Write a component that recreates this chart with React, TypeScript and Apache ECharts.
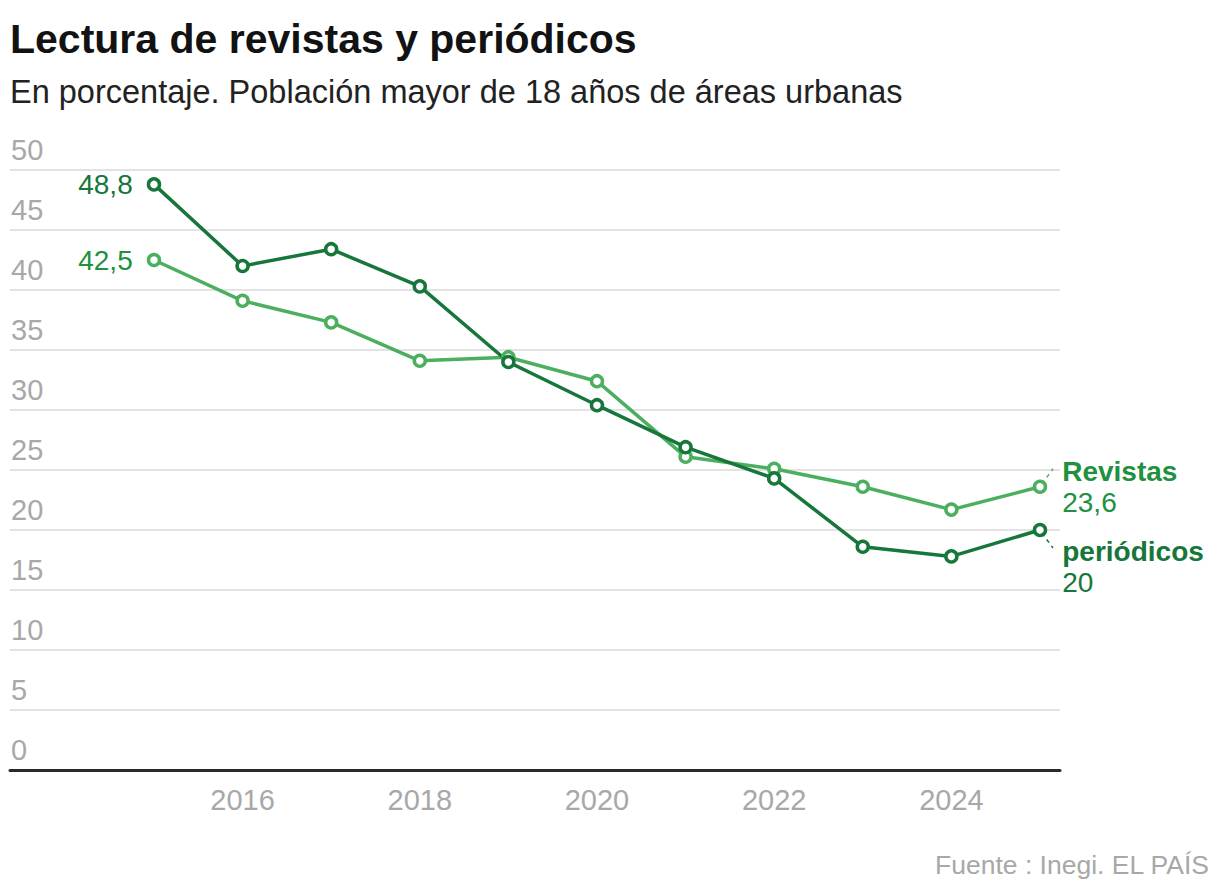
import React, { useEffect, useRef } from "react";
import * as echarts from "echarts";

const years = [2015, 2016, 2017, 2018, 2019, 2020, 2021, 2022, 2023, 2024, 2025];
const revistas = [42.5, 39.1, 37.3, 34.1, 34.4, 32.4, 26.1, 25.1, 23.6, 21.7, 23.6];
const periodicos = [48.8, 42.0, 43.4, 40.3, 34.0, 30.4, 26.9, 24.3, 18.6, 17.8, 20];
const xTickLabels = [2016, 2018, 2020, 2022, 2024];
const yTicks = { min: 0, max: 50, interval: 5 };

const TITLE = "Lectura de revistas y periódicos";
const SUBTITLE = "En porcentaje. Población mayor de 18 años de áreas urbanas";
const SOURCE = "Fuente : Inegi. EL PAÍS";

const DARK = "#17763a";
const LIGHT = "#4caf5f";
const LIGHT_TEXT = "#21903f";
const FONT = "'Liberation Sans', Arial, sans-serif";

const fmt = (v: number) => String(v).replace(".", ",");

function buildData(vals: number[], name: string, textColor: string, endOffset: number[]) {
  const last = vals.length - 1;
  return vals.map((v, i) => {
    const item: any = { value: [years[i], v] };
    if (i === 0) {
      item.label = {
        show: true,
        position: "left",
        distance: 14,
        formatter: fmt(v),
        color: textColor,
        fontSize: 28,
        fontFamily: FONT,
      };
    } else if (i === last) {
      item.label = {
        show: true,
        position: "right",
        distance: 15,
        offset: endOffset,
        align: "left",
        formatter: `{n|${name}}\n{v|${fmt(v)}}`,
        rich: {
          n: { fontWeight: "bold", fontSize: 28, lineHeight: 31, color: textColor, fontFamily: FONT },
          v: { fontSize: 28, lineHeight: 31, color: textColor, fontFamily: FONT },
        },
      };
    }
    return item;
  });
}

export default function App() {
  const ref = useRef<HTMLDivElement>(null);
  useEffect(() => {
    if (!ref.current) return;
    const chart = echarts.init(ref.current, undefined, { renderer: "svg" });
    const lineSeries = (name: string, label: string, vals: number[], color: string, textColor: string, off: number[]) => ({
      type: "line",
      name,
      data: buildData(vals, label, textColor, off),
      symbol: "circle",
      symbolSize: 11,
      showAllSymbol: true,
      lineStyle: { color, width: 3.5 },
      itemStyle: { color: "#ffffff", borderColor: color, borderWidth: 3.5 },
      emphasis: { disabled: true },
      z: 3,
    });
    chart.setOption({
      animation: false,
      backgroundColor: "#ffffff",
      grid: { left: 10, right: 160, top: 170, bottom: 126 },
      xAxis: {
        type: "value",
        min: 2013.375,
        max: 2025.226,
        axisLine: { show: true, lineStyle: { color: "#2a2a2a", width: 3 } },
        axisTick: { show: false },
        splitLine: { show: false },
        axisLabel: {
          customValues: xTickLabels,
          color: "#a8a8a8",
          fontSize: 29,
          fontFamily: FONT,
          margin: 15,
          formatter: (v: number) => String(v),
        },
      },
      yAxis: {
        type: "value",
        min: yTicks.min,
        max: yTicks.max,
        interval: yTicks.interval,
        axisLine: { show: false },
        axisTick: { show: false },
        splitLine: { show: true, lineStyle: { color: "#e3e3e3", width: 2 } },
        axisLabel: {
          inside: true,
          margin: 1,
          align: "left",
          verticalAlign: "bottom",
          padding: [0, 0, 6, 0],
          color: "#a8a8a8",
          fontSize: 29,
          fontFamily: FONT,
        },
      },
      series: [
        lineSeries("Revistas", "Revistas", revistas, LIGHT, LIGHT_TEXT, [0, 0]),
        lineSeries("periódicos", "periódicos", periodicos, DARK, DARK, [0, 37]),
      ],
      graphic: [
        {
          id: "title",
          type: "text",
          left: 10,
          top: 18,
          style: { text: TITLE, fill: "#121212", font: `bold 41px ${FONT}` },
        },
        {
          id: "subtitle",
          type: "text",
          left: 10,
          top: 75,
          style: { text: SUBTITLE, fill: "#222", font: `32.5px ${FONT}` },
        },
        {
          id: "source",
          type: "text",
          right: 10,
          top: 851,
          style: { text: SOURCE, fill: "#a8a8a8", font: `26.5px ${FONT}` },
        },
      ],
    });
    const lastIdx = years.length - 1;
    const pr = chart.convertToPixel({ seriesIndex: 0 }, [years[lastIdx], revistas[lastIdx]]) as number[];
    const pp = chart.convertToPixel({ seriesIndex: 1 }, [years[lastIdx], periodicos[lastIdx]]) as number[];
    const dash = { lineWidth: 1.5, lineDash: [4, 4] };
    chart.setOption({
      graphic: [
        {
          id: "connR",
          type: "line",
          shape: { x1: pr[0] + 2, y1: pr[1] - 3, x2: pr[0] + 13, y2: pr[1] - 18 },
          style: { ...dash, stroke: LIGHT },
          z: 10,
        },
        {
          id: "connP",
          type: "line",
          shape: { x1: pp[0] + 2, y1: pp[1] + 3, x2: pp[0] + 13, y2: pp[1] + 18 },
          style: { ...dash, stroke: DARK },
          z: 10,
        },
      ],
    });
    return () => chart.dispose();
  }, []);
  return <div ref={ref} style={{ position: "fixed", left: 0, top: 0, width: 1220, height: 896 }} />;
}
